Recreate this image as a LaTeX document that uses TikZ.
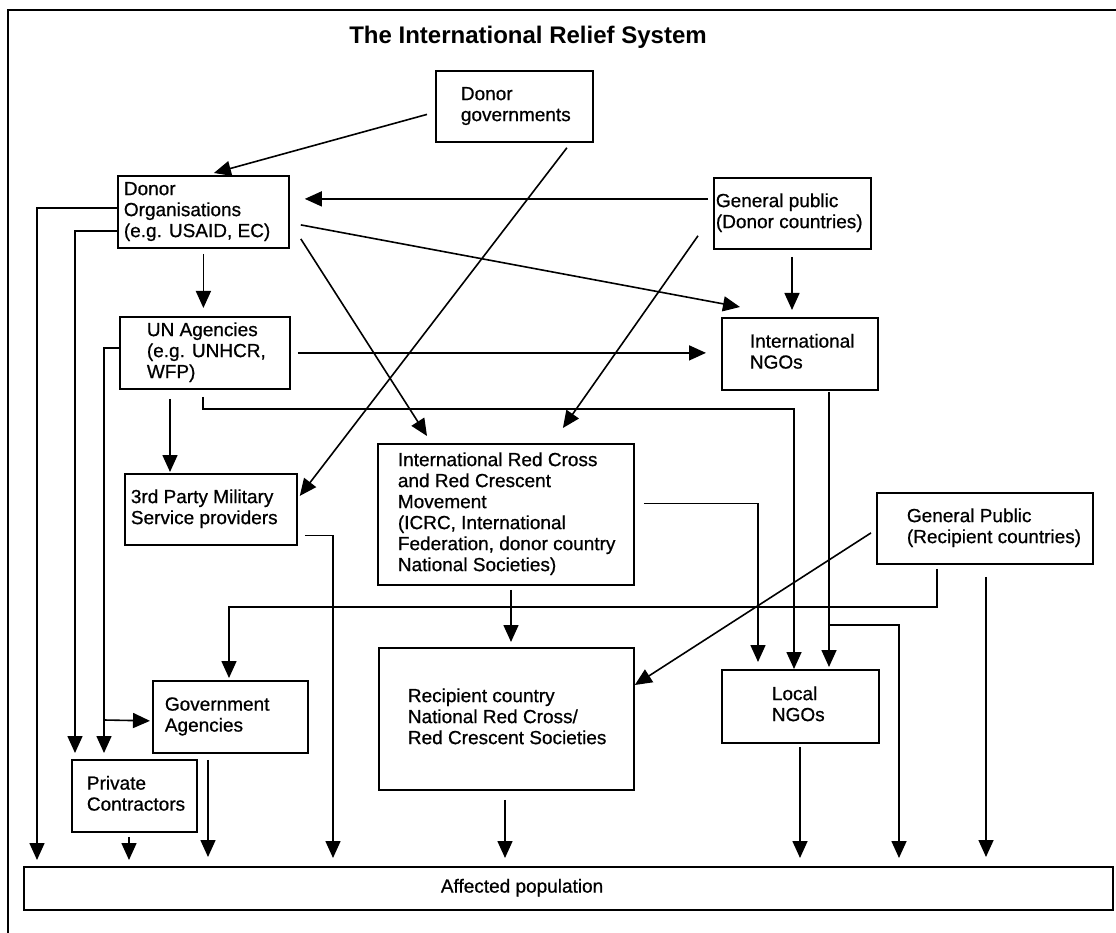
\documentclass[tikz,border=0pt]{standalone}
\usepackage{fontspec}
\setmainfont{Liberation Sans}
\newfontfamily\bodyfont[UprightFeatures={FakeBold=0.7}]{Liberation Sans}
\usetikzlibrary{arrows.meta,calc}
\newcommand{\bxt}[3]{\makebox[#1pt][l]{\hspace{#2pt}\begin{tabular}{@{}l@{}}#3\end{tabular}}}
\begin{document}
\begin{tikzpicture}[x=1pt,y=-1pt,
  box/.style={draw, line width=1.8pt, anchor=north west, inner sep=0pt, font=\bodyfont\fontsize{19}{21}\selectfont},
  arr/.style={line width=1.6pt, -{Triangle[length=17pt,width=15pt]}},
  frame/.style={line width=1.6pt}]
\useasboundingbox (0,0) rectangle (1116,933);
\draw[frame] (8,933) -- (8,10) -- (1116,10);
\node[font=\fontsize{24}{28}\selectfont\bfseries] (title) at (528,37) {The International Relief System};

\node[box, minimum height=71pt] (dg) at (435,70) {\bxt{157}{25}{Donor\\governments}};
\node[box, minimum height=72pt] (dorg) at (117,175) {\bxt{171}{6}{Donor\\Organisations\\(e.g. USAID, EC)}};
\node[box, minimum height=71pt] (gpd) at (713,177) {\bxt{157}{2}{General public\\(Donor countries)}};
\node[box, minimum height=72pt] (un) at (119,316) {\bxt{170}{27}{UN Agencies\\(e.g. UNHCR,\\WFP)}};
\node[box, minimum height=72pt] (ingo) at (721,317) {\bxt{156}{28}{International\\NGOs}};
\node[box, minimum height=141pt] (irc) at (377,443) {\bxt{256}{20}{International Red Cross\\and Red Crescent\\Movement\\(ICRC, International\\Federation, donor country\\National Societies)}};
\node[box, minimum height=71pt] (tpm) at (124,473) {\bxt{172}{6}{3rd Party Military\\Service providers}};
\node[box, minimum height=71pt] (gpr) at (876,492) {\bxt{216}{30}{General Public\\(Recipient countries)}};
\node[box, minimum height=72pt] (ga) at (152,680) {\bxt{155}{12}{Government\\Agencies}};
\node[box, minimum height=142pt] (nrc) at (378,647) {\bxt{255}{29}{Recipient country\\National Red Cross/\\Red Crescent Societies}};
\node[box, minimum height=73pt] (lngo) at (721,669) {\bxt{157}{50}{Local\\NGOs}};
\node[box, minimum height=72pt] (pc) at (71,759) {\bxt{125}{15}{Private\\Contractors}};
\node[box, minimum height=43pt] (aff) at (23,866) {\bxt{1089}{417}{Affected population}};

\draw[arr] ($(dg.west)+(-8,8)$) -- ($(dorg.north)+(10.5,-2)$);
\draw[arr] ($(dg.south)+(52.5,5)$) -- ($(tpm.east)+(2,-13.5)$);
\draw[arr] ($(gpd.west)+(-5,-14.5)$) -- ($(dorg.east)+(15,-13)$);
\draw[arr] ($(dorg.east)+(11,13)$) -- ($(ingo.north west)+(19,-10)$);
\draw[arr] ($(dorg.east)+(11,27)$) -- ($(irc.north west)+(50,-7)$);
\draw[arr] ($(gpd.south west)+(-15,-14)$) -- ($(irc.north)+(57,-15)$);
\draw[arr, shorten <=5pt, shorten >=8pt] (dorg.south) -- (dorg.south |- un.north);
\draw[arr, shorten >=6pt] ($(dorg.west)+(0,-4)$) -| ($(aff.north west)+(14,0)$);
\draw[arr, shorten >=6pt] ($(dorg.west)+(0,19)$) -| ($(pc.north west)+(4,0)$);
\draw[arr, shorten >=6pt] ($(un.west)+(0,-5)$) -| ($(pc.north west)+(33,0)$);
\draw[arr, shorten >=2pt] ($(pc.north west)+(33,-39)$) -- ($(ga.west)+(0,4)$);
\draw[arr] ($(un.east)+(7,0)$) -- ($(ingo.west)+(-15,-1)$);
\draw[arr] ($(un.south)+(-2,7)$) -- ($(un.south)+(-2,19)$) -| ($(lngo.north west)+(73,0)$);
\draw[arr] ($(un.south west)+(51,9)$) -- ($(tpm.north west)+(46,-1)$);
\draw[arr, shorten >=8pt] ($(tpm.east)+(7,26)$) -| ($(aff.north west)+(310,0)$);
\draw[arr, shorten >=7pt] ($(irc.east)+(9,-11)$) -| ($(lngo.north west)+(37,0)$);
\draw[arr, shorten >=2pt] ($(ingo.south west)+(108,1)$) -- ($(lngo.north west)+(108,0)$);
\draw[arr, shorten >=8pt] ($(ingo.south west)+(108,234)$) -| ($(aff.north west)+(876,0)$);
\draw[arr] ($(gpd.south west)+(79,7)$) -- ($(ingo.north west)+(71,-7)$);
\draw[arr] ($(irc.south west)+(134,4)$) -- ($(nrc.north west)+(133,-5)$);
\draw[arr] ($(nrc.south west)+(127,9)$) -- ($(aff.north west)+(482,-8)$);
\draw[arr] ($(gpr.west)+(-5,4.5)$) -- ($(nrc.north east)+(0,38)$);
\draw[arr, shorten >=2pt] ($(gpr.south west)+(61,4)$) |- ($(ga.north west)+(77,-73)$) -- ($(ga.north west)+(77,0)$);
\draw[arr] ($(gpr.south west)+(110,12)$) -- ($(aff.north west)+(963,-9)$);
\draw[arr] ($(ga.south west)+(56,6)$) -- ($(aff.north west)+(185,-9)$);
\draw[arr] ($(pc.south west)+(58,4)$) -- ($(aff.north west)+(106,-6)$);
\draw[arr] ($(lngo.south west)+(79,3)$) -- ($(aff.north west)+(777,-8)$);
\end{tikzpicture}
\end{document}
